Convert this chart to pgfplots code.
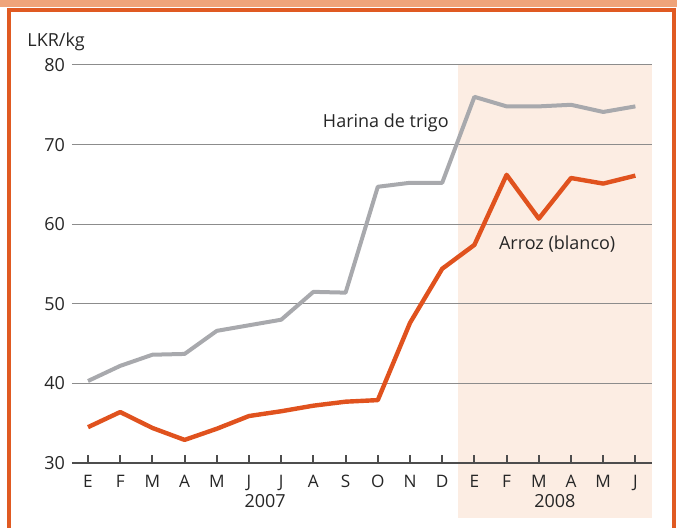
\documentclass[border=0pt]{standalone}
\usepackage{pgfplots}
\pgfplotsset{compat=1.18}
\usepackage{fontspec}
\setmainfont{Open Sans}
\definecolor{harina}{HTML}{A8A9AD}
\definecolor{arroz}{HTML}{E0521E}
\definecolor{shadec}{HTML}{FCEDE3}
\definecolor{band}{HTML}{EFA47A}
\definecolor{framec}{HTML}{E05A22}
\definecolor{gridc}{HTML}{8C8C8C}
\definecolor{axisc}{HTML}{4D4D4D}

\begin{document}
\begin{tikzpicture}
\begin{axis}[
    set layers,
    x=16.1pt, y=3.98pt,
    xmin=-0.5, xmax=17.5, ymin=30, ymax=80,
    clip=false,
    axis line style={draw=none},
    xtick={0,...,17},
    xticklabels={E,F,M,A,M,J,J,A,S,O,N,D,E,F,M,A,M,J},
    xtick pos=left,
    tick align=inside,
    major tick length=4pt,
    xtick style={draw=axisc, line width=1pt},
    ytick={30,40,...,80},
    ytick style={draw=none},
    ymajorgrids,
    grid style={draw=gridc, line width=0.5pt},
    tick label style={font=\fontsize{9}{10}\selectfont, text=black!85},
    xticklabel style={font=\fontsize{8.6}{10}\selectfont, yshift=-2.5pt},
    /pgf/number format/assume math mode=true,
]
% shaded 2008 band
\begin{pgfonlayer}{axis background}
\fill[shadec] (axis cs:11.5,23.09) rectangle (axis cs:17.5,80);
\end{pgfonlayer}

\addplot[harina, line width=2pt, line join=round] coordinates {
    (0,40.3) (1,42.2) (2,43.6) (3,43.7) (4,46.6) (5,47.3) (6,48.0) (7,51.5) (8,51.4)
    (9,64.7) (10,65.2) (11,65.2) (12,76.0) (13,74.8) (14,74.8) (15,75.0) (16,74.1) (17,74.8)
};
\addplot[arroz, line width=2.2pt, line join=round] coordinates {
    (0,34.5) (1,36.4) (2,34.4) (3,32.9) (4,34.3) (5,35.9) (6,36.5) (7,37.2) (8,37.7)
    (9,37.9) (10,47.6) (11,54.4) (12,57.4) (13,66.2) (14,60.7) (15,65.8) (16,65.1) (17,66.1)
};

\draw[axisc, line width=1pt] (axis cs:-0.5,30) -- (axis cs:17.5,30);

\node[font=\fontsize{9}{10}\selectfont, text=black!85] at (axis cs:9.25,72.7) {Harina de trigo};
\node[font=\fontsize{9}{10}\selectfont, text=black!85] at (axis cs:14.57,57.5) {Arroz (blanco)};
\node[font=\fontsize{9}{10}\selectfont, text=black!85, anchor=west, inner sep=0pt] at (axis cs:-1.894,82.9) {LKR/kg};
\node[font=\fontsize{9}{10}\selectfont, text=black!85] at (axis cs:5.5,25.2) {2007};
\node[font=\fontsize{9}{10}\selectfont, text=black!85] at (axis cs:14.5,25.2) {2008};

% frame
\fill[band] (axis cs:-2.733,88.166) rectangle (axis cs:18.292,87.25);
\draw[framec, line width=2pt] (axis cs:-2.447,21.834) |- (axis cs:18.199,86.97) -- (axis cs:18.199,21.834);

\coordinate (bl) at (axis cs:-2.733,21.834);
\coordinate (tr) at (axis cs:18.292,88.166);
\end{axis}
\pgfresetboundingbox
\path[use as bounding box] (bl) rectangle (tr);
\end{tikzpicture}
\end{document}
